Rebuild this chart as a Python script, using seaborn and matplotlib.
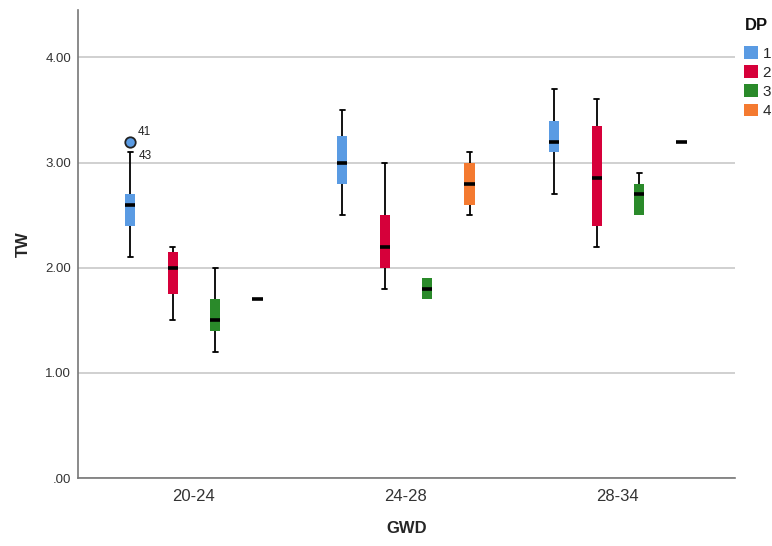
import numpy as np
import pandas as pd
import matplotlib.pyplot as plt
import seaborn as sns
from matplotlib.patches import Patch

# Configure plots
sns.set_theme(style='white')
plt.rcParams['font.family'] = ['Liberation Sans', 'DejaVu Sans']

# Box summaries (whisker low, Q1, median, Q3, whisker high)
gwd_groups = ['20-24', '24-28', '28-34']
dp_levels = ['1', '2', '3', '4']
dp_colors = ['#5A9BE3', '#D6003A', '#2A8A2A', '#F47A30']

box_gwd = ['20-24', '20-24', '20-24', '20-24',
           '24-28', '24-28', '24-28', '24-28',
           '28-34', '28-34', '28-34', '28-34']
box_dp = ['1', '2', '3', '4', '1', '2', '3', '4', '1', '2', '3', '4']
whisker_low = [2.10, 1.50, 1.20, 1.70, 2.50, 1.80, 1.70, 2.50, 2.70, 2.20, 2.50, 3.20]
q1 = [2.40, 1.75, 1.40, 1.70, 2.80, 2.00, 1.70, 2.60, 3.10, 2.40, 2.50, 3.20]
median = [2.60, 2.00, 1.50, 1.70, 3.00, 2.20, 1.80, 2.80, 3.20, 2.85, 2.70, 3.20]
q3 = [2.70, 2.15, 1.70, 1.70, 3.25, 2.50, 1.90, 3.00, 3.40, 3.35, 2.80, 3.20]
whisker_high = [3.10, 2.20, 2.00, 1.70, 3.50, 3.00, 1.90, 3.10, 3.70, 3.60, 2.90, 3.20]

# Outlier and case labels
outlier_gwd = ['20-24']
outlier_dp = ['1']
outlier_tw = [3.20]
outlier_label = ['41']
whisker_case_label = '43'

# Five points per box give exactly the quartiles above
rows = []
for g, d, lo, a, m, b, hi in zip(box_gwd, box_dp, whisker_low, q1, median, q3, whisker_high):
    for v in (lo, a, m, b, hi):
        rows.append({'GWD': g, 'DP': d, 'TW': v})
df = pd.DataFrame(rows)
out_df = pd.DataFrame({'GWD': outlier_gwd, 'DP': outlier_dp, 'TW': outlier_tw})

fig = plt.figure(figsize=(7.72, 5.46), dpi=100)
ax = fig.add_axes([0.101, 0.1245, 0.851, 0.857])

sns.boxplot(data=df, x='GWD', y='TW', hue='DP', order=gwd_groups, hue_order=dp_levels,
            palette=dp_colors, saturation=1, width=0.8, gap=0.76, linecolor='black',
            linewidth=1.3, boxprops={'linewidth': 0},
            medianprops={'color': 'black', 'linewidth': 2.6},
            showfliers=False, legend=False, ax=ax)

# hide caps on zero-length whiskers
for cont in ax.containers:
    for wh, cap in zip(cont.whiskers, cont.caps):
        y = wh.get_ydata()
        if abs(y[0] - y[1]) < 1e-9:
            cap.set_visible(False)
            wh.set_visible(False)

n_before = len(ax.collections)
sns.stripplot(data=out_df, x='GWD', y='TW', hue='DP', order=gwd_groups, hue_order=dp_levels,
              palette=dp_colors, dodge=True, jitter=False, size=7.5, linewidth=1.3,
              edgecolor='#222222', legend=False, ax=ax, zorder=5)

x0 = None
for coll in ax.collections[n_before:]:
    offs = np.asarray(coll.get_offsets())
    if len(offs):
        x0 = offs[0][0]
ax.annotate(outlier_label[0], (x0, outlier_tw[0]), xytext=(5, 5), textcoords='offset points',
            fontsize=8.5, color='#222222')
ax.annotate(whisker_case_label, (x0, whisker_high[0]), xytext=(6, -3), textcoords='offset points',
            fontsize=8.5, color='#222222', va='center')

ax.set_xlim(-0.547, 2.552)
ax.set_ylim(0, 4.45)
ax.set_yticks([0, 1, 2, 3, 4])
ax.set_yticklabels(['.00', '1.00', '2.00', '3.00', '4.00'])
ax.yaxis.grid(True, color='#c8c8c8', linewidth=1.2)
ax.set_axisbelow(True)
ax.tick_params(axis='both', length=0)
ax.tick_params(axis='y', labelsize=9.5, labelcolor='#333333', pad=5)
ax.tick_params(axis='x', labelsize=12, labelcolor='#333333', pad=8)
for s in ['top', 'right']:
    ax.spines[s].set_visible(False)
for s in ['left', 'bottom']:
    ax.spines[s].set_color('#777777')
    ax.spines[s].set_linewidth(1.2)

ax.set_xlabel('GWD', fontsize=12, fontweight='bold', labelpad=12)
ax.set_ylabel('TW', fontsize=12, fontweight='bold', labelpad=10)

# legend placed at the right, title drawn as its own text
fig.text(0.965, 1 - 25 / 546, 'DP', fontsize=12, fontweight='bold', va='center', ha='left',
         color='#111111')
handles = [Patch(facecolor=c, edgecolor='none') for c in dp_colors]
leg = fig.legend(handles, dp_levels, loc='upper left',
                 bbox_to_anchor=(0.956, 1 - 40 / 546), frameon=False, fontsize=11,
                 handlelength=0.9, handleheight=0.9, handletextpad=0.3,
                 labelspacing=0.3, borderaxespad=0)

fig.savefig('out.png', dpi=100)
